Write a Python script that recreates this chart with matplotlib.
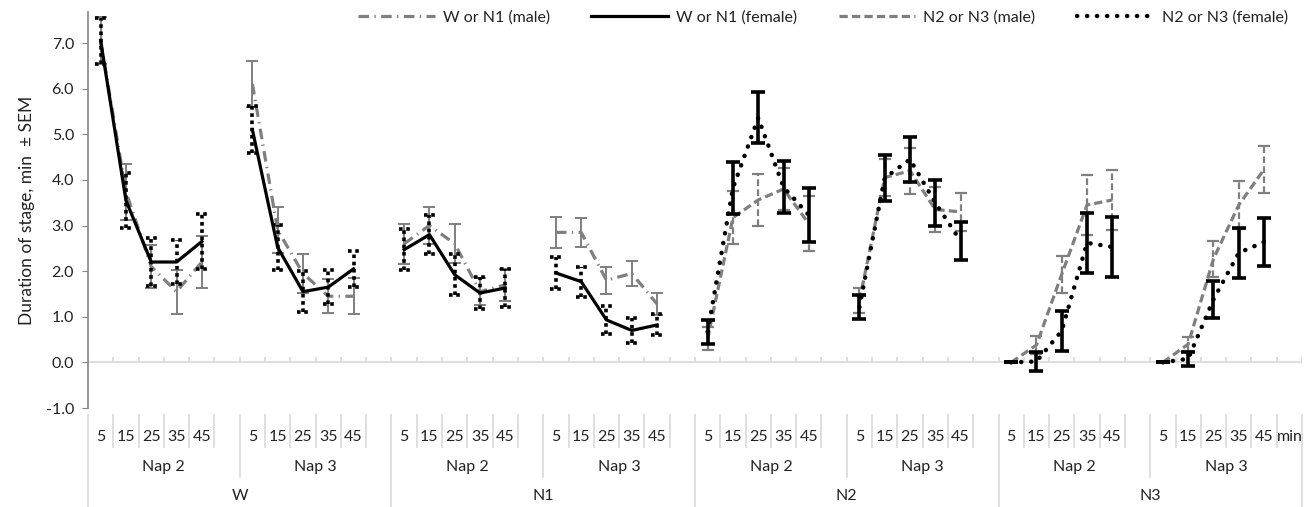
import numpy as np
import matplotlib
matplotlib.use("Agg")
import matplotlib.pyplot as plt
import matplotlib.transforms as mtransforms

plt.rcParams['font.family'] = ['Lato', 'DejaVu Sans']

# categories
stages = ["W", "N1", "N2", "N3"]
naps = ["Nap 2", "Nap 3"]
minutes = ["5", "15", "25", "35", "45"]

# W or N1 series: W Nap2, W Nap3, N1 Nap2, N1 Nap3
wn1_male = [[7.05, 3.74, 2.1, 1.55, 2.2],
            [6.1, 2.9, 1.95, 1.45, 1.45],
            [2.6, 3.0, 2.6, 1.55, 1.7],
            [2.85, 2.85, 1.8, 1.95, 1.28]]
wn1_male_sem = [[0.52, 0.61, 0.47, 0.48, 0.57],
                [0.51, 0.51, 0.43, 0.37, 0.4],
                [0.44, 0.41, 0.43, 0.3, 0.35],
                [0.34, 0.32, 0.3, 0.27, 0.24]]
wn1_female = [[7.05, 3.55, 2.2, 2.2, 2.65],
              [5.1, 2.52, 1.55, 1.65, 2.05],
              [2.47, 2.8, 1.92, 1.52, 1.63],
              [1.96, 1.77, 0.93, 0.7, 0.82]]
wn1_female_sem = [[0.5, 0.6, 0.52, 0.48, 0.6],
                  [0.52, 0.5, 0.45, 0.37, 0.4],
                  [0.45, 0.43, 0.45, 0.35, 0.42],
                  [0.35, 0.33, 0.3, 0.27, 0.23]]

# N2 or N3 series: N2 Nap2, N2 Nap3, N3 Nap2, N3 Nap3
n23_male = [[0.52, 3.17, 3.56, 3.8, 3.04],
            [1.35, 4.05, 4.2, 3.35, 3.3],
            [0.0, 0.38, 1.93, 3.45, 3.56],
            [0.0, 0.4, 2.27, 3.45, 4.23]]
n23_male_sem = [[0.25, 0.58, 0.58, 0.45, 0.6],
                [0.27, 0.4, 0.5, 0.5, 0.42],
                [0.0, 0.2, 0.41, 0.65, 0.65],
                [0.0, 0.16, 0.4, 0.53, 0.52]]
n23_female = [[0.67, 3.82, 5.36, 3.84, 3.23],
              [1.21, 4.04, 4.45, 3.5, 2.66],
              [0.0, 0.02, 0.69, 2.62, 2.53],
              [0.0, 0.08, 1.38, 2.4, 2.64]]
n23_female_sem = [[0.26, 0.57, 0.56, 0.57, 0.6],
                  [0.27, 0.51, 0.5, 0.5, 0.41],
                  [0.0, 0.21, 0.43, 0.65, 0.65],
                  [0.0, 0.15, 0.41, 0.55, 0.52]]

GRAY = "#7f7f7f"
SEP = "#d9d9d9"
TXT = "#222222"
FS = 11.5

fig = plt.figure(figsize=(13.12, 5.07), dpi=100)
ax = fig.add_axes([88 / 1312, 99 / 507, 1214 / 1312, 396 / 507])

ncat = 48
ax.set_xlim(-0.5, ncat - 0.5)
ax.set_ylim(-1, 7.68)


def xs(group):
    return np.arange(5) + group * 6


male_dd = (0, (3.3, 1.7, 0.4, 1.7))
male_dash = (0, (2.6, 1.3))
fem_dot = (0, (0.05, 2.2))

# W or N1 groups 0..3
for g in range(4):
    x = xs(g)
    m, ms = np.array(wn1_male[g]), np.array(wn1_male_sem[g])
    f, fs = np.array(wn1_female[g]), np.array(wn1_female_sem[g])
    ax.errorbar(x, m, yerr=ms, fmt='none', ecolor=GRAY, elinewidth=1.4,
                capsize=4.5, capthick=1.4, zorder=2)
    ax.plot(x, m, color=GRAY, lw=2.3, linestyle=male_dd, zorder=3,
            label="W or N1 (male)" if g == 0 else None)
    eb = ax.errorbar(x, f, yerr=fs, fmt='none', ecolor='black', elinewidth=2.6,
                     capsize=0, zorder=4)
    eb[2][0].set_linestyle((0, (1, 1)))
    ax.hlines(np.concatenate([f + fs, f - fs]), np.tile(x - 0.22, 2), np.tile(x + 0.22, 2),
              colors='black', linewidth=2.6, linestyles=[(0, (1, 1))], zorder=4)
    ax.plot(x, f, color='black', lw=2.3, zorder=5,
            label="W or N1 (female)" if g == 0 else None)

# N2 or N3 groups 4..7
for i in range(4):
    x = xs(i + 4)
    m, ms = np.array(n23_male[i]), np.array(n23_male_sem[i])
    f, fs = np.array(n23_female[i]), np.array(n23_female_sem[i])
    eb = ax.errorbar(x, m, yerr=ms, fmt='none', ecolor=GRAY, elinewidth=1.6,
                     capsize=4.5, capthick=1.6, zorder=2)
    eb[2][0].set_linestyle((0, (3, 1.5)))
    ax.plot(x, m, color=GRAY, lw=2.3, linestyle=male_dash, zorder=3,
            label="N2 or N3 (male)" if i == 0 else None)
    ax.errorbar(x, f, yerr=fs, fmt='none', ecolor='black', elinewidth=2.6,
                capsize=5, capthick=2.6, zorder=4)
    ax.plot(x, f, color='black', lw=3.2, linestyle=fem_dot, dash_capstyle='round',
            zorder=5, label="N2 or N3 (female)" if i == 0 else None)

# axes styling
for s in ["top", "right", "bottom"]:
    ax.spines[s].set_visible(False)
ax.spines["left"].set_color("#868686")
ax.spines["left"].set_linewidth(1.2)
ax.set_yticks(np.arange(-1, 8, 1.0))
ax.set_yticklabels([f"{v:.1f}" for v in np.arange(-1, 8, 1.0)])
ax.tick_params(axis='y', direction='out', length=4, pad=6, color="#868686",
               labelsize=FS, labelcolor=TXT)
ax.set_xticks([])
ax.set_ylabel("Duration of stage, min  \u00b1 SEM", fontsize=12.5, color=TXT, labelpad=8)

# horizontal axis line at zero with inner ticks
ax.axhline(0, color=SEP, lw=1.2, zorder=1)
bounds = np.arange(ncat + 1) - 0.5
ax.vlines(bounds, 0, 0.11, color=SEP, lw=1.2, zorder=1)

# multi-level category labels
trans = mtransforms.blended_transform_factory(ax.transData, ax.transAxes)
for g in range(8):
    for j, lab in enumerate(minutes):
        ax.text(g * 6 + j, -0.072, lab, transform=trans, ha='center', va='center',
                fontsize=FS, color=TXT)
ax.text(47, -0.072, "min", transform=trans, ha='center', va='center',
        fontsize=FS, color=TXT)
for k in range(8):
    ax.text(k * 6 + 2.5, -0.15, naps[k % 2], transform=trans, ha='center', va='center',
            fontsize=FS, color=TXT)
for k in range(4):
    ax.text(k * 12 + 5.5, -0.222, stages[k], transform=trans, ha='center', va='center',
            fontsize=FS, color=TXT)

for k, b in enumerate(bounds):
    if k % 12 == 0:
        bottom = -0.26
    elif k % 6 == 0:
        bottom = -0.175
    else:
        bottom = -0.098
    ax.plot([b, b], [-0.018, bottom], transform=trans, color=SEP, lw=1.2, clip_on=False)

leg = ax.legend(loc='upper right', bbox_to_anchor=(1.0, 1.04), ncol=4, frameon=False,
                fontsize=FS, handlelength=4.8, columnspacing=2.6, handletextpad=0.5)
for t in leg.get_texts():
    t.set_color(TXT)

fig.savefig("out.png", dpi=100)
